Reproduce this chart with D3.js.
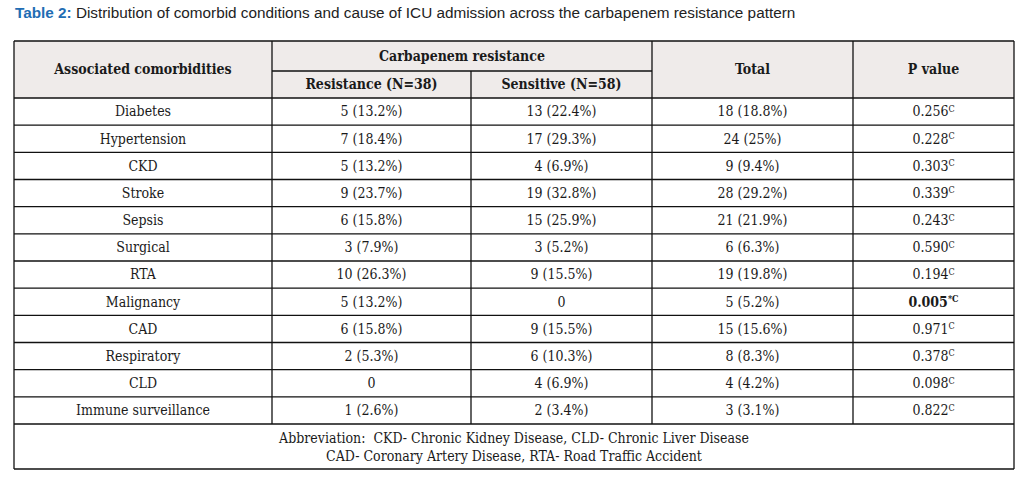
<!DOCTYPE html>
<html>
<head>
<meta charset="utf-8">
<script src="https://cdn.jsdelivr.net/npm/d3@7"></script>
<style>
  body { margin: 0; background: #fff; }
  svg text { font-family: "DejaVu Serif Condensed", "DejaVu Serif", serif; font-stretch: condensed; fill: #1a1a1a; }
</style>
</head>
<body>
<div id="table-chart"></div>
<script>
// Table 2 data
const categories = ['Diabetes', 'Hypertension', 'CKD', 'Stroke', 'Sepsis', 'Surgical', 'RTA',
  'Malignancy', 'CAD', 'Respiratory', 'CLD', 'Immune surveillance'];
const resistance = ['5 (13.2%)', '7 (18.4%)', '5 (13.2%)', '9 (23.7%)', '6 (15.8%)', '3 (7.9%)',
  '10 (26.3%)', '5 (13.2%)', '6 (15.8%)', '2 (5.3%)', '0', '1 (2.6%)'];
const sensitive = ['13 (22.4%)', '17 (29.3%)', '4 (6.9%)', '19 (32.8%)', '15 (25.9%)', '3 (5.2%)',
  '9 (15.5%)', '0', '9 (15.5%)', '6 (10.3%)', '4 (6.9%)', '2 (3.4%)'];
const totals = ['18 (18.8%)', '24 (25%)', '9 (9.4%)', '28 (29.2%)', '21 (21.9%)', '6 (6.3%)',
  '19 (19.8%)', '5 (5.2%)', '15 (15.6%)', '8 (8.3%)', '4 (4.2%)', '3 (3.1%)'];
const pValues = ['0.256', '0.228', '0.303', '0.339', '0.243', '0.590', '0.194', '0.005',
  '0.971', '0.378', '0.098', '0.822'];
const pMarks = ['C', 'C', 'C', 'C', 'C', 'C', 'C', '*C', 'C', 'C', 'C', 'C'];
const footnotes = ['Abbreviation:  CKD- Chronic Kidney Disease, CLD- Chronic Liver Disease',
  'CAD- Coronary Artery Disease, RTA- Road Traffic Accident'];

const width = 1031, height = 477;
const svg = d3.select('#table-chart').append('svg')
  .attr('width', width).attr('height', height);

// column edges and row scale
const colEdges = [14, 272, 471, 652, 853, 1014];
const headTop = 41, subLine = 71, headBottom = 98, footBottom = 469;
const y = d3.scaleBand().domain(d3.range(categories.length))
  .range([headBottom, 424]);
const colMid = i => (colEdges[i] + colEdges[i + 1]) / 2;

// title
const title = svg.append('text').attr('x', 15).attr('y', 18)
  .style('font-family', '"Liberation Sans", Arial, sans-serif').style('font-stretch', 'normal')
  .style('font-size', '15.3px');
title.append('tspan').text('Table 2:').style('fill', '#1f6db4').style('font-weight', 'bold');
title.append('tspan').text(' Distribution of comorbid conditions and cause of ICU admission across the carbapenem resistance pattern')
  .style('fill', '#222');

// header background
svg.append('rect').attr('x', colEdges[0]).attr('y', headTop)
  .attr('width', colEdges[5] - colEdges[0]).attr('height', headBottom - headTop)
  .attr('fill', '#efebea');

// grid lines
const lines = svg.append('g').attr('stroke', '#111').attr('stroke-width', 1.3);
const hLines = [[headTop, 0, 5], [subLine, 1, 3], [headBottom, 0, 5]]
  .concat(d3.range(1, categories.length + 1).map(i => [y(i - 1) + y.bandwidth(), 0, 5]))
  .concat([[footBottom, 0, 5]]);
lines.selectAll('.h').data(hLines).enter().append('line')
  .attr('x1', d => colEdges[d[1]]).attr('x2', d => colEdges[d[2]])
  .attr('y1', d => d[0]).attr('y2', d => d[0]);
const vLines = [[0, headTop, footBottom], [5, headTop, footBottom], [1, headTop, 424],
  [3, headTop, 424], [4, headTop, 424], [2, subLine, 424]];
lines.selectAll('.v').data(vLines).enter().append('line')
  .attr('x1', d => colEdges[d[0]]).attr('x2', d => colEdges[d[0]])
  .attr('y1', d => d[1]).attr('y2', d => d[2]);

// header text
const headers = [
  { t: 'Associated comorbidities', x: colMid(0), y: (headTop + headBottom) / 2 },
  { t: 'Carbapenem resistance', x: (colEdges[1] + colEdges[3]) / 2, y: (headTop + subLine) / 2 },
  { t: 'Resistance (N=38)', x: colMid(1), y: (subLine + headBottom) / 2 },
  { t: 'Sensitive (N=58)', x: colMid(2), y: (subLine + headBottom) / 2 },
  { t: 'Total', x: colMid(3), y: (headTop + headBottom) / 2 },
  { t: 'P value', x: colMid(4), y: (headTop + headBottom) / 2 }
];
svg.selectAll('.head').data(headers).enter().append('text')
  .attr('x', d => d.x).attr('y', d => d.y).attr('dy', '0.35em')
  .attr('text-anchor', 'middle').style('font-size', '14px').style('font-weight', 'bold')
  .text(d => d.t);

// body cells
const columns = [categories, resistance, sensitive, totals];
columns.forEach((col, ci) => {
  svg.selectAll('.c' + ci).data(col).enter().append('text')
    .attr('x', colMid(ci)).attr('y', (d, i) => y(i) + y.bandwidth() / 2).attr('dy', '0.35em')
    .attr('text-anchor', 'middle').style('font-size', '14px')
    .text(d => d);
});

// p values with superscript
const pText = svg.selectAll('.p').data(pValues).enter().append('text')
  .attr('x', colMid(4)).attr('y', (d, i) => y(i) + y.bandwidth() / 2).attr('dy', '0.35em')
  .attr('text-anchor', 'middle').style('font-size', '14px')
  .style('font-weight', (d, i) => pMarks[i].startsWith('*') ? 'bold' : 'normal');
pText.append('tspan').text(d => d);
pText.append('tspan').attr('dy', '-0.5em').style('font-size', '9px')
  .text((d, i) => pMarks[i]);

// footnotes
svg.selectAll('.foot').data(footnotes).enter().append('text')
  .attr('x', (colEdges[0] + colEdges[5]) / 2).attr('y', (d, i) => 443 + i * 18)
  .attr('text-anchor', 'middle').style('font-size', '14px')
  .attr('xml:space', 'preserve')
  .text(d => d);
</script>
</body>
</html>
